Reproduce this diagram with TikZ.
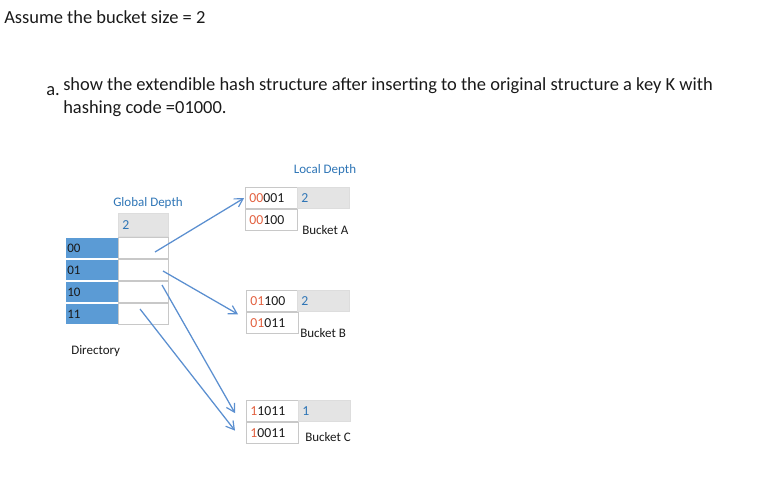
\documentclass[tikz,border=0pt]{standalone}
\usepackage{fontspec}
\setmainfont{Carlito}
\usetikzlibrary{arrows.meta,calc}
\definecolor{lblue}{HTML}{2E75B6}
\definecolor{arrblue}{HTML}{5B8FD0}
\definecolor{dirblue}{HTML}{5B9BD5}
\definecolor{cellgray}{HTML}{C8C8C8}
\definecolor{depthgray}{HTML}{E4E4E4}
\definecolor{pre}{HTML}{E2603F}
\definecolor{ink}{HTML}{1A1A1A}
\begin{document}
\begin{tikzpicture}[x=0.75pt,y=-0.75pt,
  every node/.style={text=ink},
  cellfont/.style={font=\fontsize{9.75}{11}\selectfont},
  cell/.style={font=\fontsize{10.3}{12}\selectfont, draw=cellgray, line width=0.6pt, anchor=north west, inner xsep=3pt, inner ysep=0pt,
     text width=33pt, minimum height=16.1pt, align=left},
  dircell/.style={cell, font=\fontsize{9.75}{11}\selectfont, fill=dirblue, draw=white, text width=36.75pt, inner xsep=1.5pt},
  ptrcell/.style={cell, fill=white, text width=31.5pt},
  depth/.style={cell, fill=depthgray, draw=depthgray!85!black!20!depthgray, text=lblue},
  lbl/.style={cellfont, inner sep=0pt},
  bluelbl/.style={lbl, text=lblue},
  head/.style={anchor=base west, inner sep=0pt, font=\fontsize{13.85}{16}\selectfont},
  ptr/.style={draw=arrblue, line width=0.95pt, -{Straight Barb[length=6pt,width=7pt,line width=0.9pt]}}
]
\useasboundingbox (0,0) rectangle (766,481);

% heading text
\node[head] (t1) at (4,24) {Assume the bucket size = 2};
\node[head] (t2) at (46,96) {a.};
\node[head] (t3) at (63,91) {show the extendible hash structure after inserting to the original structure a key K with};
\node[head] (t4) at (63,114) {hashing code =01000.};

% global depth + directory
\node[bluelbl] (gdl) at (148,203) {Global Depth};
\node[depth, text width=31.5pt, minimum height=17pt] (g) at (118,213) {2};
\node[dircell] (d00) at (65,237) {00};
\node[dircell] (d01) at (65,259) {01};
\node[dircell] (d10) at (65,281) {10};
\node[dircell] (d11) at (65,303) {11};
\node[ptrcell] (p00) at (118,237) {};
\node[ptrcell] (p01) at (118,259) {};
\node[ptrcell] (p10) at (118,281) {};
\node[ptrcell] (p11) at (118,303) {};
\node[lbl, anchor=west] (dir) at (71,351) {Directory};

% bucket A
\node[bluelbl] (ldl) at (325,170) {Local Depth};
\node[cell] (A1) at (245,187) {\textcolor{pre}{00}001};
\node[cell] (A2) at (245,208.5) {\textcolor{pre}{00}100};
\node[depth] (LA) at (297,187) {2};
\node[lbl, anchor=west] (bA) at (302,230) {Bucket A};

% bucket B
\node[cell] (B1) at (246,290) {\textcolor{pre}{01}100};
\node[cell] (B2) at (246,311.5) {\textcolor{pre}{01}011};
\node[depth] (LB) at (297,290) {2};
\node[lbl, anchor=west] (bB) at (300,333) {Bucket B};

% bucket C
\node[cell] (C1) at (246,400) {\textcolor{pre}{1}1011};
\node[cell] (C2) at (246,421.5) {\textcolor{pre}{1}0011};
\node[depth] (LC) at (298,400) {1};
\node[lbl, anchor=west] (bC) at (305,437) {Bucket C};

% pointer start points
\coordinate (s00) at (155,252);
\coordinate (s01) at (163,271);
\coordinate (s10) at (162,285);
\coordinate (s11) at (140,309);
% pointer end points
\coordinate (eA) at ($(A1.west)+(-1,0)$);
\coordinate (eB) at ($(B1.south west)+(-8,2)$);
\coordinate (eC1) at ($(C1.west)+(-11,2)$);
\coordinate (eC2) at ($(C2.west)+(-11,-2)$);

\draw[ptr] (s00) -- (eA);
\draw[ptr] (s01) -- (eB);
\draw[ptr] (s10) -- (eC1);
\draw[ptr] (s11) -- (eC2);
\end{tikzpicture}
\end{document}
